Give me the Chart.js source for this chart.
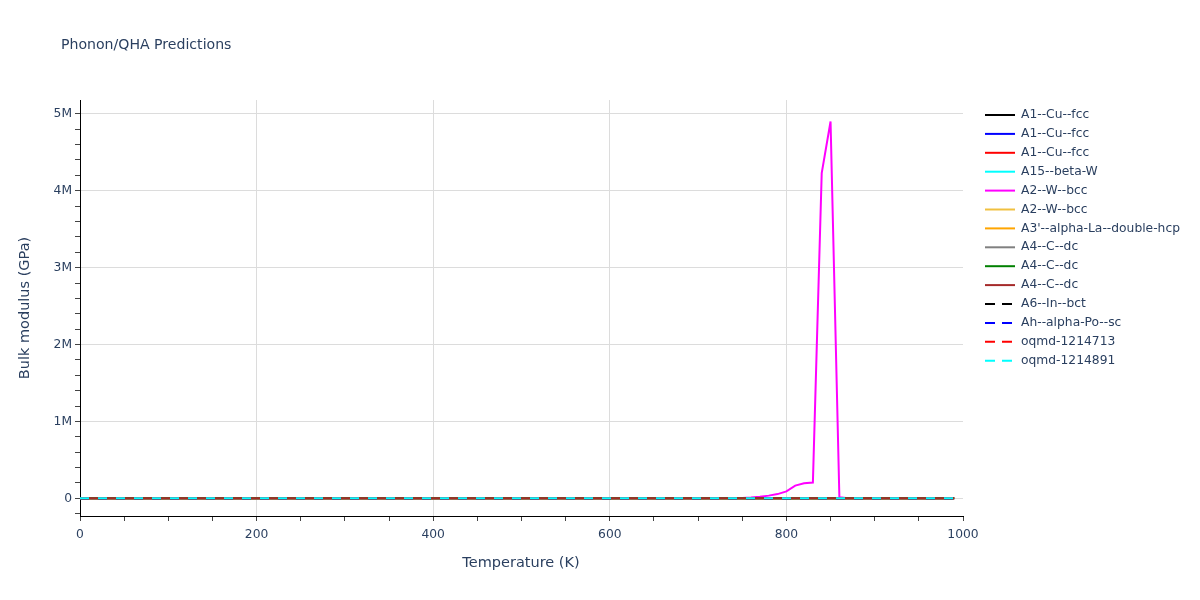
<!DOCTYPE html>
<html lang="en">
<head>
  <meta charset="UTF-8" />
  <title>Phonon/QHA Predictions</title>
  <style>
    body { margin: 0; background: #fff; }
    #wrap { width: 1200px; height: 600px; }
  </style>
</head>
<body>
  <div id="wrap"><canvas id="chart" width="1200" height="600"></canvas></div>
  <script src="https://cdn.jsdelivr.net/npm/chart.js"></script>
  <script>
    // temperatures (K) and bulk modulus values (GPa)
    const flatTemps = [0, 500, 990];
    const cuFcc1 = [141, 139, 136];
    const cuFcc2 = [138, 136, 133];
    const cuFcc3 = [144, 142, 139];
    const betaW = [298, 295, 291];
    const wBcc2 = [312, 309, 305];
    const laHcp = [25, 24, 23];
    const cDc1 = [442, 439, 435];
    const cDc2 = [436, 433, 430];
    const cDc3 = [447, 444, 440];
    const inBct = [41, 39, 37];
    const poSc = [46, 44, 42];
    const oqmd713 = [102, 100, 98];
    const oqmd891 = [121, 119, 116];

    const wBccTemps = [0, 200, 400, 600, 700, 740, 750, 760, 770, 780, 790, 800, 810, 820, 830, 840, 850, 860, 870, 990];
    const wBcc1 = [305, 303, 300, 320, 900, 2500, 5000, 10000, 20000, 35000, 55000, 90000, 165000, 195000, 205000, 4230000, 4900000, 15000, 300, 280];

    const yMajor = [0, 1000000, 2000000, 3000000, 4000000, 5000000];
    const xLabels = [0, 200, 400, 600, 800, 1000];

    const series = [
      { name: 'A1--Cu--fcc', t: flatTemps, v: cuFcc1, color: '#000000', dash: [] },
      { name: 'A1--Cu--fcc', t: flatTemps, v: cuFcc2, color: '#0000ff', dash: [] },
      { name: 'A1--Cu--fcc', t: flatTemps, v: cuFcc3, color: '#ff0000', dash: [] },
      { name: 'A15--beta-W', t: flatTemps, v: betaW, color: '#00ffff', dash: [] },
      { name: 'A2--W--bcc', t: wBccTemps, v: wBcc1, color: '#ff00ff', dash: [] },
      { name: 'A2--W--bcc', t: flatTemps, v: wBcc2, color: '#f0c040', dash: [] },
      { name: "A3'--alpha-La--double-hcp", t: flatTemps, v: laHcp, color: '#ffa500', dash: [] },
      { name: 'A4--C--dc', t: flatTemps, v: cDc1, color: '#808080', dash: [] },
      { name: 'A4--C--dc', t: flatTemps, v: cDc2, color: '#008000', dash: [] },
      { name: 'A4--C--dc', t: flatTemps, v: cDc3, color: '#a52a2a', dash: [] },
      { name: 'A6--In--bct', t: flatTemps, v: inBct, color: '#000000', dash: [9, 9] },
      { name: 'Ah--alpha-Po--sc', t: flatTemps, v: poSc, color: '#0000ff', dash: [9, 9] },
      { name: 'oqmd-1214713', t: flatTemps, v: oqmd713, color: '#ff0000', dash: [9, 9] },
      { name: 'oqmd-1214891', t: flatTemps, v: oqmd891, color: '#00ffff', dash: [9, 9] }
    ];

    const textColor = '#2a3f5f';
    const fontFam = '"DejaVu Sans", Verdana, sans-serif';

    // titles and legend drawn by hand, plotly style
    const extras = {
      id: 'extras',
      afterDraw(chart) {
        const ctx = chart.ctx;
        ctx.save();
        ctx.fillStyle = textColor;
        ctx.textBaseline = 'middle';
        ctx.font = '14.1px ' + fontFam;
        ctx.textAlign = 'left';
        ctx.fillText('Phonon/QHA Predictions', 61, 45);
        ctx.font = '14.5px ' + fontFam;
        ctx.textAlign = 'center';
        ctx.fillText('Temperature (K)', 521, 563);
        ctx.save();
        ctx.translate(25, 308);
        ctx.rotate(-Math.PI / 2);
        ctx.fillText('Bulk modulus (GPa)', 0, 0);
        ctx.restore();

        ctx.font = '12.3px ' + fontFam;
        ctx.textAlign = 'left';
        series.forEach((s, i) => {
          const y = 115 + i * 18.9;
          ctx.strokeStyle = s.color;
          ctx.lineWidth = 2;
          ctx.setLineDash(s.dash.length ? [10, 7] : []);
          ctx.beginPath();
          ctx.moveTo(985, y);
          ctx.lineTo(1015, y);
          ctx.stroke();
          ctx.setLineDash([]);
          ctx.fillStyle = textColor;
          ctx.fillText(s.name, 1021, y);
        });
        ctx.restore();
      }
    };

    const datasets = series.map((s, i) => ({
      label: s.name,
      data: s.t.map((t, j) => ({ x: t, y: s.v[j] })),
      borderColor: s.color,
      borderWidth: 2,
      borderDash: s.dash,
      pointRadius: 0,
      fill: false,
      tension: 0,
      order: series.length - i
    }));

    new Chart(document.getElementById('chart').getContext('2d'), {
      type: 'line',
      data: { datasets },
      plugins: [extras],
      options: {
        responsive: false,
        animation: false,
        layout: { padding: { top: 100, right: 237, bottom: 0, left: 0 } },
        plugins: {
          legend: { display: false },
          title: { display: false },
          tooltip: { enabled: false }
        },
        scales: {
          x: {
            type: 'linear',
            min: 0,
            max: 1000,
            afterFit(scale) { scale.height = 84; },
            afterBuildTicks(scale) {
              const t = [];
              for (let v = 0; v <= 1000; v += 50) t.push({ value: v });
              scale.ticks = t;
            },
            border: { display: true, color: '#000', width: 1 },
            grid: {
              color: c => (c.tick && c.tick.value % 200 === 0 && c.tick.value > 0 && c.tick.value < 1000) ? '#dcdcdc' : 'rgba(0,0,0,0)',
              tickColor: '#444',
              tickLength: 5,
              lineWidth: 1
            },
            ticks: {
              autoSkip: false,
              maxRotation: 0,
              padding: 6,
              color: textColor,
              font: { family: fontFam, size: 12.3 },
              callback: v => xLabels.includes(v) ? String(v) : ''
            }
          },
          y: {
            type: 'linear',
            min: -230000,
            max: 5180000,
            afterFit(scale) { scale.width = 80; },
            afterBuildTicks(scale) {
              const t = [];
              for (let v = -200000; v <= 5000000; v += 200000) t.push({ value: v });
              scale.ticks = t;
            },
            border: { display: true, color: '#000', width: 1 },
            grid: {
              color: c => (c.tick && yMajor.includes(c.tick.value)) ? '#dcdcdc' : 'rgba(0,0,0,0)',
              tickColor: '#444',
              tickLength: 5,
              lineWidth: 1
            },
            ticks: {
              autoSkip: false,
              padding: 3,
              color: textColor,
              font: { family: fontFam, size: 12.3 },
              callback: v => yMajor.includes(v) ? (v === 0 ? '0' : (v / 1000000) + 'M') : ''
            }
          }
        }
      }
    });
  </script>
</body>
</html>
